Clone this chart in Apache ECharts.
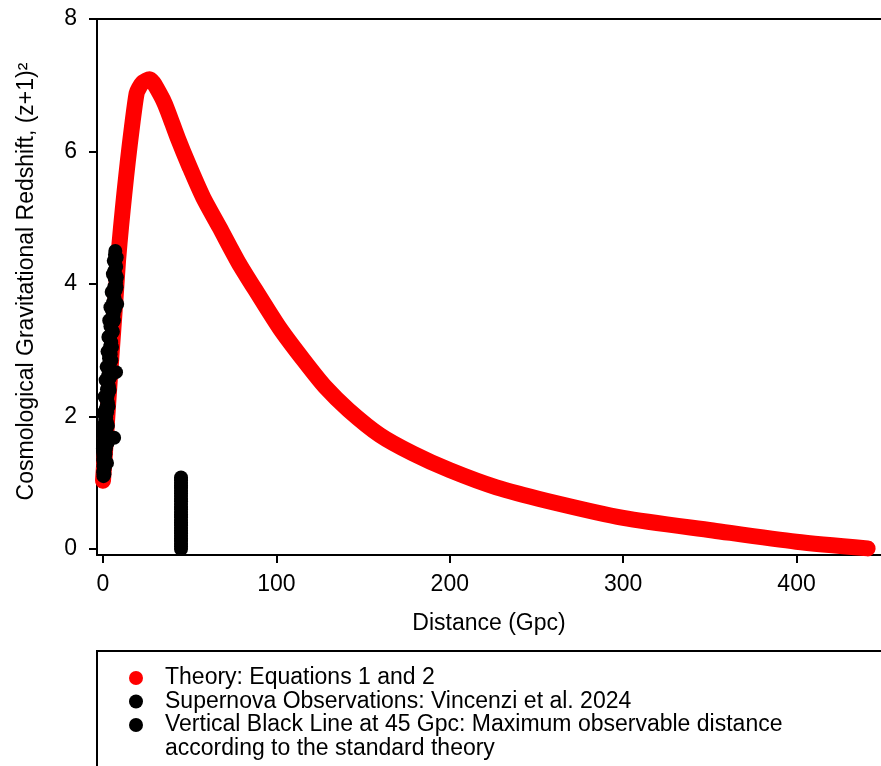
<!DOCTYPE html>
<html>
<head>
<meta charset="utf-8">
<title>Cosmological Gravitational Redshift vs Distance</title>
<script src="https://cdn.jsdelivr.net/npm/echarts@6/dist/echarts.min.js"></script>
<style>
  html, body { margin: 0; padding: 0; background: #fff; }
  #chart { width: 881px; height: 766px; }
</style>
</head>
<body>
<div id="chart"></div>
<script>
// Theory curve: distance (Gpc) and (z+1)^2
const theoryX = [0, 1.5, 3, 4.5, 6, 7.4, 8.7, 10.4, 12.3, 14.4, 16.7, 19.4, 21, 22.5, 24.8, 26.9, 29, 30.9, 34.6, 37.5, 43.3, 49.9, 57.7, 67.1, 78, 89.1, 102, 115.7, 128, 141.6, 159.7, 178.9, 200, 226.9, 255.7, 300, 351.8, 399.8, 441];
const theoryY = [1.03, 1.6, 2.2, 2.78, 3.33, 3.85, 4.36, 4.86, 5.36, 5.87, 6.37, 6.88, 6.97, 7.03, 7.07, 7.09, 7.04, 6.96, 6.78, 6.60, 6.19, 5.77, 5.31, 4.86, 4.33, 3.86, 3.33, 2.85, 2.45, 2.10, 1.72, 1.44, 1.19, 0.93, 0.73, 0.47, 0.28, 0.11, 0.01];

// Supernova observations (Vincenzi et al. 2024): distance (Gpc)
const snX = [0.3, 0.8, 0.1, 0.6, 1.0, 0.3, 0.7, 1.2, 0.2, 0.9, 0.5, 1.4, 0.3, 1.0, 1.7, 0.6, 1.3, 0.2, 1.9, 6.4, 0.9, 1.5, 0.4, 2.0, 1.1, 1.7, 0.7, 2.2, 1.3, 1.8, 1.0, 2.4, 1.6, 2.1, 2.8, 1.9, 2.6, 3.1, 2.3, 3.4, 2.7, 3.6, 7.5, 3.0, 3.9, 3.3, 4.1, 3.5, 4.4, 3.8, 4.2, 4.7, 3.9, 4.5, 5.2, 4.3, 5.5, 4.8, 6.1, 5.3, 6.4, 8.2, 5.8, 6.7, 6.1, 7.2, 6.5, 7.5, 6.8, 7.3, 6.6, 7.6, 7.0, 7.4, 6.9, 7.1,
             2.3, 0.0, 2.6, 0.0, 2.8, 0.3, 3.2, 0.9, 3.8, 1.5, 4.3, 2.1, 4.8, 2.6, 5.2, 3.1, 5.7, 3.6, 6.3, 4.3, 6.9, 5.0, 7.8, 5.7, 8.0, 6.2, 7.9];
// Supernova observations: (z+1)^2
const snY = [1.10, 1.13, 1.16, 1.19, 1.22, 1.25, 1.28, 1.31, 1.34, 1.37, 1.40, 1.43, 1.46, 1.49, 1.52, 1.55, 1.58, 1.61, 1.64, 1.68, 1.67, 1.71, 1.74, 1.77, 1.80, 1.84, 1.88, 1.91, 1.95, 1.99, 2.03, 2.07, 2.11, 2.16, 2.21, 2.26, 2.31, 2.36, 2.41, 2.46, 2.51, 2.57, 2.67, 2.62, 2.70, 2.76, 2.82, 2.88, 2.94, 3.00, 3.06, 3.12, 3.18, 3.24, 3.30, 3.36, 3.42, 3.48, 3.54, 3.60, 3.66, 3.70, 3.72, 3.78, 3.84, 3.90, 3.96, 4.02, 4.08, 4.14, 4.20, 4.26, 4.32, 4.38, 4.44, 4.50,
             1.30, 1.52, 1.60, 1.80, 1.86, 2.05, 2.15, 2.30, 2.40, 2.55, 2.60, 2.75, 2.85, 2.98, 3.05, 3.20, 3.28, 3.45, 3.45, 3.65, 3.62, 3.88, 3.95, 4.15, 4.10, 4.35, 4.40];

// Vertical marker at 45 Gpc
const limitX = 45;
const limitY = [0.00, 0.04, 0.08, 0.12, 0.16, 0.20, 0.24, 0.28, 0.32, 0.36, 0.40, 0.44, 0.48, 0.52, 0.56, 0.60, 0.64, 0.68, 0.72, 0.76, 0.80, 0.84, 0.88, 0.92, 0.96, 1.00, 1.04, 1.08];

// Tick positions
const xTicks = [0, 100, 200, 300, 400];
const yTicks = [0, 2, 4, 6, 8];

const nameTheory = 'Theory: Equations 1 and 2';
const nameSN = 'Supernova Observations: Vincenzi et al. 2024';
const nameLimit = 'Vertical Black Line at 45 Gpc: Maximum observable distance\naccording to the standard theory';

const FONT = '"Liberation Sans", Arial, Helvetica, sans-serif';
const X_MIN = -3.46, X_MAX = 448.7;

const chart = echarts.init(document.getElementById('chart'), null, { renderer: 'canvas' });

const axisLineStyle = { show: true, onZero: false, lineStyle: { color: '#000', width: 2 } };
const legendText = { fontSize: 23, lineHeight: 23.5, color: '#000', fontFamily: FONT };

chart.setOption({
  animation: false,
  backgroundColor: '#fff',
  textStyle: { fontFamily: FONT },
  grid: { left: 97, top: 19, right: 0, bottom: 211, containLabel: false },
  xAxis: [
    {
      type: 'value', min: X_MIN, max: X_MAX,
      name: 'Distance (Gpc)',
      nameLocation: 'middle',
      nameGap: 57,
      nameTextStyle: { fontSize: 23, color: '#000', fontFamily: FONT },
      axisLine: axisLineStyle,
      splitLine: { show: false },
      axisTick: { show: true, length: 8, lineStyle: { color: '#000', width: 2 }, customValues: xTicks },
      axisLabel: { fontSize: 23, color: '#000', fontFamily: FONT, margin: 18, customValues: xTicks }
    },
    {
      // top frame line
      type: 'value', position: 'top', min: X_MIN, max: X_MAX,
      axisLine: axisLineStyle,
      axisTick: { show: false }, axisLabel: { show: false }, splitLine: { show: false }
    }
  ],
  yAxis: {
    type: 'value', min: -0.09, max: 8,
    name: 'Cosmological Gravitational Redshift, (z+1)\u00B2',
    nameLocation: 'middle',
    nameGap: 59,
    nameTextStyle: { fontSize: 23, color: '#000', fontFamily: FONT, padding: [0, 0, 0, 11] },
    axisLine: axisLineStyle,
    splitLine: { show: false },
    axisTick: { show: true, length: 8, lineStyle: { color: '#000', width: 2 }, customValues: yTicks },
    axisLabel: { fontSize: 23, color: '#000', fontFamily: FONT, margin: 20, customValues: yTicks }
  },
  legend: [
    {
      orient: 'vertical',
      left: 129, top: 666.25, height: 100,
      padding: 0, itemGap: 0,
      itemWidth: 48, itemHeight: 14,
      icon: 'circle',
      selectedMode: false,
      textStyle: legendText,
      data: [nameTheory, nameSN]
    },
    {
      orient: 'vertical',
      left: 129, top: 689.75, height: 80,
      padding: 0, itemGap: 0,
      itemWidth: 48, itemHeight: 14,
      icon: 'circle',
      selectedMode: false,
      textStyle: legendText,
      // leading empty line keeps the dot level with the first text line
      formatter: name => '\n' + name,
      data: [nameLimit]
    }
  ],
  graphic: [{
    type: 'rect',
    shape: { x: 97, y: 651, width: 900, height: 200 },
    style: { fill: 'none', stroke: '#000', lineWidth: 2 },
    silent: true, z: 10
  }],
  series: [
    {
      name: nameTheory,
      type: 'line',
      z: 1,
      data: theoryX.map((x, i) => [x, theoryY[i]]),
      showSymbol: false,
      smooth: 0.25,
      clip: false,
      lineStyle: { color: '#ff0000', width: 16, cap: 'round', join: 'round' },
      itemStyle: { color: '#ff0000' }
    },
    {
      name: nameSN,
      type: 'scatter',
      z: 3,
      data: snX.map((x, i) => [x, snY[i]]),
      symbolSize: 14,
      clip: false,
      itemStyle: { color: '#000', opacity: 1 }
    },
    {
      name: nameLimit,
      type: 'scatter',
      z: 3,
      data: limitY.map(y => [limitX, y]),
      symbolSize: 14,
      clip: false,
      itemStyle: { color: '#000', opacity: 1 }
    }
  ]
});
</script>
</body>
</html>
